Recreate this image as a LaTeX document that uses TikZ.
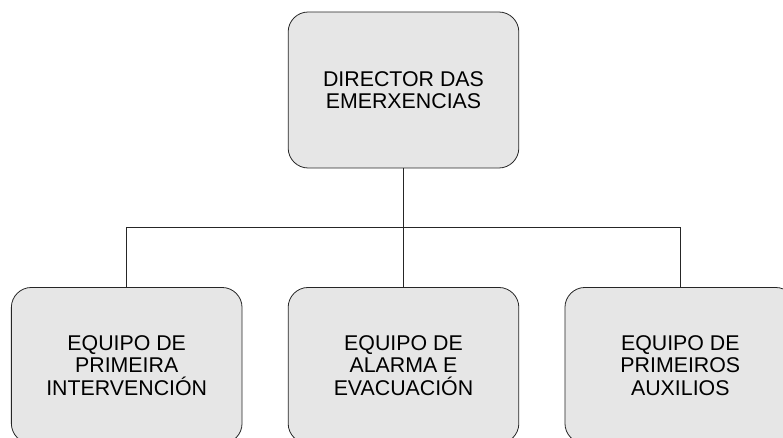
\documentclass[tikz,border=0pt]{standalone}
\usepackage{fontspec}
\setmainfont{Liberation Sans}
\usetikzlibrary{positioning}
\definecolor{boxgrey}{HTML}{E6E6E6}
\tikzstyle{team} = [rectangle, rounded corners=15pt, draw=black!85, fill=boxgrey, line width=0.6pt, align=center, minimum width=173pt, minimum height=117pt, font=\fontsize{16}{17}\selectfont]
\tikzstyle{link} = [line width=0.6pt, draw=black!85]

\begin{document}
\begin{tikzpicture}[x=0.75pt, y=-0.75pt]
    \useasboundingbox (0,0) rectangle (783,438);

    % Director
    \node (director) [team] at (403.5,90) {DIRECTOR DAS\\EMERXENCIAS};

    % Teams
    \node (alarma) [team, below=89pt of director] {EQUIPO DE\\ALARMA E\\EVACUACIÓN};
    \node (intervencion) [team, left=34pt of alarma] {EQUIPO DE\\PRIMEIRA\\INTERVENCIÓN};
    \node (auxilios) [team, right=34pt of alarma] {EQUIPO DE\\PRIMEIROS\\AUXILIOS};

    % ==== Lines
    \draw [link] (director.south) -- (alarma.north);
    \draw [link] (director.south) -- ++(0,-44.5pt) -| (intervencion.north);
    \draw [link] (director.south) -- ++(0,-44.5pt) -| (auxilios.north);

\end{tikzpicture}
\end{document}
